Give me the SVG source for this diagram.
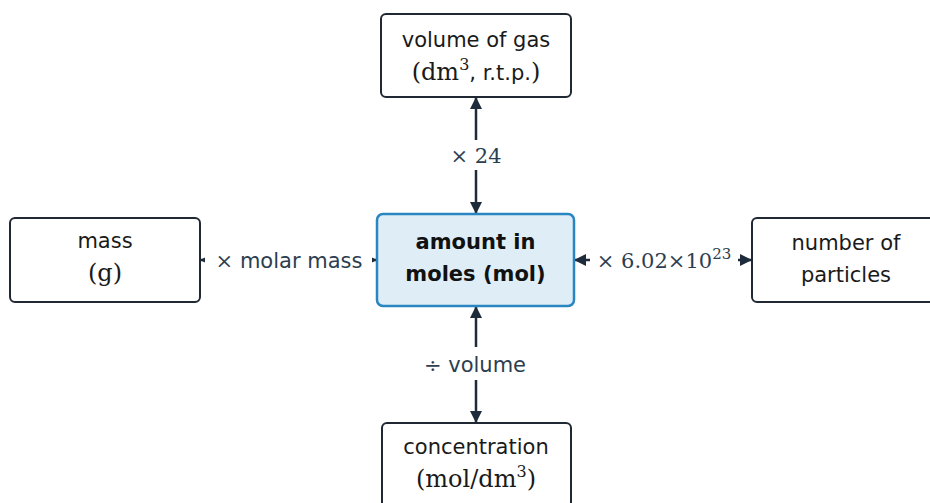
<svg xmlns="http://www.w3.org/2000/svg" width="930" height="503" viewBox="0 0 930 503">
<defs>
<marker id="ah" viewBox="0 0 12 12" refX="12" refY="6" markerWidth="12" markerHeight="12" markerUnits="userSpaceOnUse" orient="auto-start-reverse">
<path d="M0,0 L12,6 L0,12 z" fill="#1e2b3a"/>
</marker>
<style>
.box{fill:#ffffff;stroke:#1f2833;stroke-width:2}
.main{fill:#deedf6;stroke:#2a86c0;stroke-width:2.5}
.t{font-family:"DejaVu Sans",sans-serif;font-size:21px;fill:#1a1a1a;text-anchor:middle}
.b{font-family:"DejaVu Sans",sans-serif;font-size:21px;font-weight:bold;fill:#111111;text-anchor:middle}
.m{font-family:"DejaVu Serif",serif;font-size:21px}
.mb{font-family:"DejaVu Serif",serif;font-size:24px}
.lbl{font-family:"DejaVu Sans",sans-serif;font-size:21px;fill:#2c3e50;text-anchor:middle}
.line{stroke:#1e2b3a;stroke-width:2.5;fill:none;marker-start:url(#ah);marker-end:url(#ah)}
.bg{fill:#ffffff}
</style>
</defs>
<g id="connectors">
<line class="line" x1="476" y1="97" x2="476" y2="214"/>
<line class="line" x1="476" y1="306" x2="476" y2="423"/>
<line class="line" x1="200" y1="260" x2="377" y2="260"/>
<line class="line" x1="574" y1="260" x2="752" y2="260"/>
<rect class="bg" x="445" y="140" width="62" height="30"/>
<text class="lbl" x="476" y="163"><tspan class="m" font-size="22">× 24</tspan></text>
<rect class="bg" x="410" y="347" width="132" height="33"/>
<text class="lbl" x="475" y="372"><tspan class="m" font-size="22">÷</tspan> volume</text>
<rect class="bg" x="205" y="245" width="167" height="30"/>
<text class="lbl" x="289" y="268"><tspan class="m" font-size="22">×</tspan> molar mass</text>
<rect class="bg" x="590" y="245" width="148" height="30"/>
<text class="lbl" x="664" y="268"><tspan class="m">× 6.02×10<tspan font-size="15" dy="-9">23</tspan></tspan></text>
</g>
<g id="gas">
<rect class="box" x="381" y="14" width="190" height="83" rx="5"/>
<text class="t" x="476" y="47">volume of gas</text>
<text class="t" x="476" y="80"><tspan class="mb">(dm<tspan font-size="16" dy="-10">3</tspan></tspan><tspan dy="10">, r.t.p.</tspan><tspan class="mb">)</tspan></text>
</g>
<g id="moles">
<rect class="main" x="377" y="214" width="197" height="92" rx="6"/>
<text class="b" x="475.5" y="249">amount in</text>
<text class="b" x="475.5" y="281">moles (mol)</text>
</g>
<g id="mass">
<rect class="box" x="10" y="218" width="190" height="84" rx="5"/>
<text class="t" x="105" y="248">mass</text>
<text class="t" x="105" y="281"><tspan class="mb">(g)</tspan></text>
</g>
<g id="particles">
<rect class="box" x="752" y="218" width="190" height="84" rx="5"/>
<text class="t" x="846" y="250">number of</text>
<text class="t" x="846" y="282">particles</text>
</g>
<g id="concentration">
<rect class="box" x="382" y="423" width="189" height="84" rx="5"/>
<text class="t" x="476" y="454">concentration</text>
<text class="t" x="476" y="487"><tspan class="mb">(mol/dm<tspan font-size="16" dy="-10">3</tspan><tspan dy="10">)</tspan></tspan></text>
</g>
</svg>
